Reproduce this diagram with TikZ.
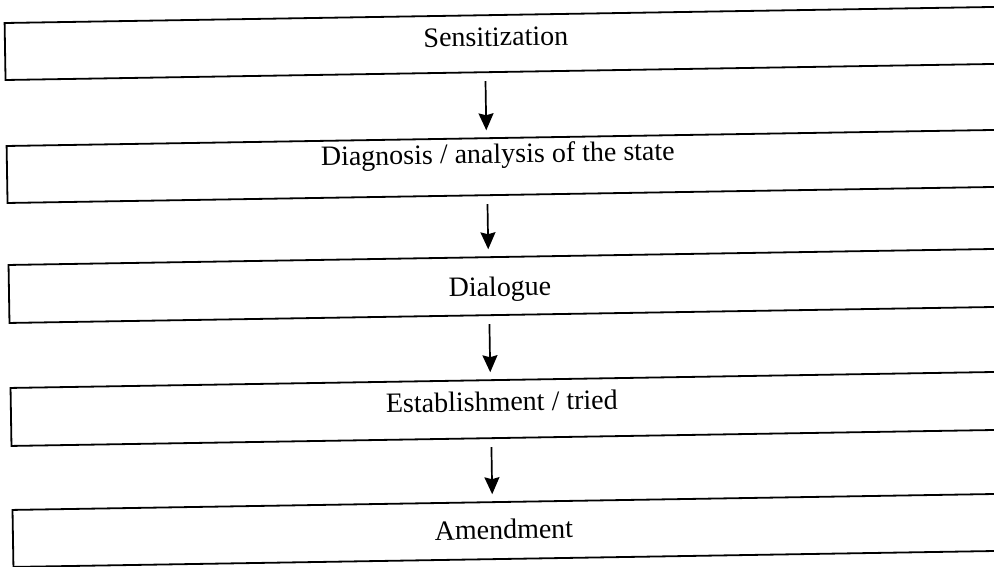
\documentclass[tikz,border=0pt]{standalone}
\usepackage{fontspec}
\setmainfont{Liberation Serif}
\usetikzlibrary{arrows.meta,calc}
\tikzset{
  stagebox/.style={draw=black, line width=1.8pt, rectangle, minimum width=1051pt, inner sep=0pt},
  stagetext/.style={anchor=base, inner sep=0pt, font=\fontsize{28}{32}\selectfont},
  flowarrow/.style={line width=1.7pt, -{Stealth[width=15pt,length=17pt,inset=2pt]}, shorten <=8pt, shorten >=7pt}
}
\begin{document}
\begin{tikzpicture}[x=1pt,y=-1pt]
\useasboundingbox (0,0) rectangle (994,567);
\fill[white] (0,0) rectangle (994,567);
\clip (0,0) rectangle (994,567);
\begin{scope}[rotate around={0.93:(500,290)}, transform shape]
  \node[stagebox, minimum height=57pt] (b1) at (534.5,43.5) {};
  \node[stagebox, minimum height=57pt] (b2) at (534.5,166.5) {};
  \node[stagebox, minimum height=58pt] (b3) at (534.5,286) {};
  \node[stagebox, minimum height=58pt] (b4) at (534.5,409) {};
  \node[stagebox, minimum height=57pt] (b5) at (534.5,530.5) {};
  \node[stagetext] (t1) at (500,46) {Sensitization};
  \node[stagetext] (t2) at (500,163) {Diagnosis / analysis of the state};
  \node[stagetext] (t3) at (500,296) {Dialogue};
  \node[stagetext] (t4) at (500,411) {Establishment / tried};
  \node[stagetext] (t5) at (500,539) {Amendment};
  \draw[flowarrow] ($(b1.south west)!0.4567!(b1.south east)$) -- ($(b2.north west)!0.4567!(b2.north east)$);
  \draw[flowarrow] ($(b2.south west)!0.4567!(b2.south east)$) -- ($(b3.north west)!0.4567!(b3.north east)$);
  \draw[flowarrow] ($(b3.south west)!0.4567!(b3.south east)$) -- ($(b4.north west)!0.4567!(b4.north east)$);
  \draw[flowarrow] ($(b4.south west)!0.4567!(b4.south east)$) -- ($(b5.north west)!0.4567!(b5.north east)$);
\end{scope}
\end{tikzpicture}
\end{document}
